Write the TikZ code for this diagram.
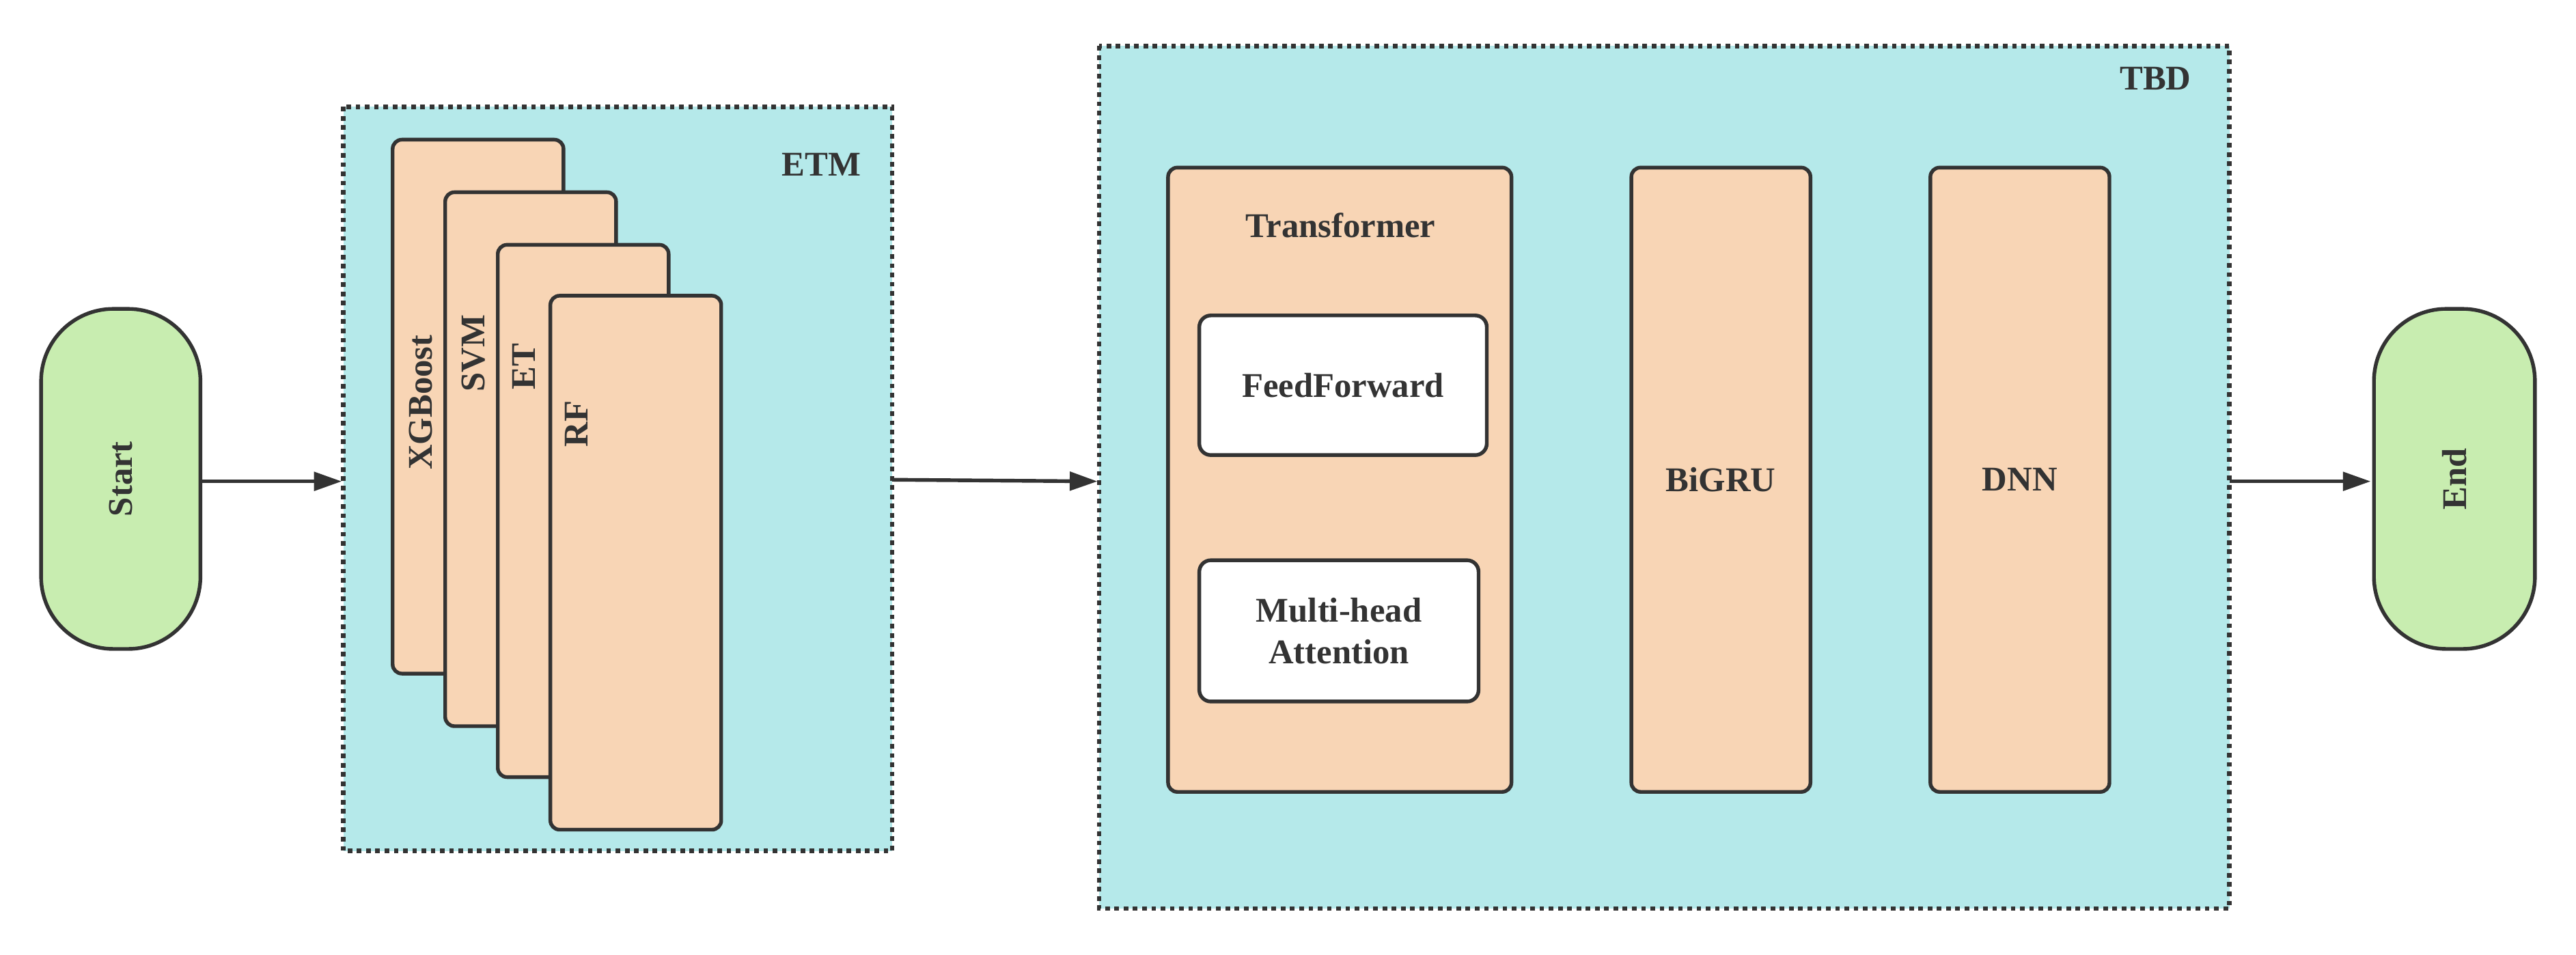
\documentclass[tikz,border=0pt]{standalone}
\usepackage{fontspec}
\setmainfont{Liberation Serif}
\usetikzlibrary{arrows.meta}
\definecolor{cyanbg}{HTML}{B5E9EA}
\definecolor{peach}{HTML}{F8D5B5}
\definecolor{pill}{HTML}{C8EDB0}
\definecolor{ink}{HTML}{333333}
\begin{document}
\begin{tikzpicture}[x=0.025cm,y=-0.025cm,line width=1.6pt,
  txt/.style={font=\fontsize{15}{18}\selectfont\bfseries,text=ink},
  grp/.style={draw=ink,fill=cyanbg,dotted,line width=2pt},
  card/.style={draw=ink,fill=peach,rounded corners=4pt},
  inner/.style={draw=ink,fill=white,rounded corners=5pt},
  term/.style={draw=ink,fill=pill,rounded corners=1.1cm},
  arr/.style={-{Triangle[length=12pt,width=8pt]},draw=ink}]
\useasboundingbox (0,0) rectangle (1568,581);
% start / end
\draw[term] (25,188) rectangle (122,395);
\node[txt,rotate=90] (start) at (73.5,291.5) {Start};
\coordinate (startE) at (122,293);
\draw[term] (1445,188) rectangle (1543,395);
\node[txt,rotate=90] (end) at (1494,291.5) {End};
\coordinate (endW) at (1443,293);
% ETM
\draw[grp] (209,65) rectangle (543,518);
\node[txt] (etm) at (500,100) {ETM};
\coordinate (etmW) at (208,293);
\coordinate (etmE) at (543,292);
\draw[card] (239,85) rectangle (343,410);
\node[txt,rotate=90] (xgb) at (256,245) {XGBoost};
\draw[card] (271,117) rectangle (375,442);
\node[txt,rotate=90] (svm) at (288,215) {SVM};
\draw[card] (303,149) rectangle (407,473);
\node[txt,rotate=90] (et) at (319,223) {ET};
\draw[card] (335,180) rectangle (439,505);
\node[txt,rotate=90] (rf) at (351,258) {RF};
% TBD
\draw[grp] (669,28) rectangle (1357,553);
\node[txt] (tbd) at (1312,48) {TBD};
\coordinate (tbdW) at (668,293);
\coordinate (tbdE) at (1357,293);
\draw[card] (711,102) rectangle (920,482);
\node[txt] (trans) at (816,137) {Transformer};
\draw[inner] (730,192) rectangle (905,277);
\node[txt] (ff) at (817.5,234.5) {FeedForward};
\draw[inner] (730,341) rectangle (900,427);
\node[txt,align=center] (mha) at (815,384) {Multi-head\\Attention};
\draw[card] (993,102) rectangle (1102,482);
\node[txt] (bigru) at (1047.5,292) {BiGRU};
\draw[card] (1175,102) rectangle (1284,482);
\node[txt] (dnn) at (1229.5,292) {DNN};
% arrows
\draw[arr] (startE) -- (etmW);
\draw[arr] (etmE) -- (tbdW);
\draw[arr] (tbdE) -- (endW);
\end{tikzpicture}
\end{document}
